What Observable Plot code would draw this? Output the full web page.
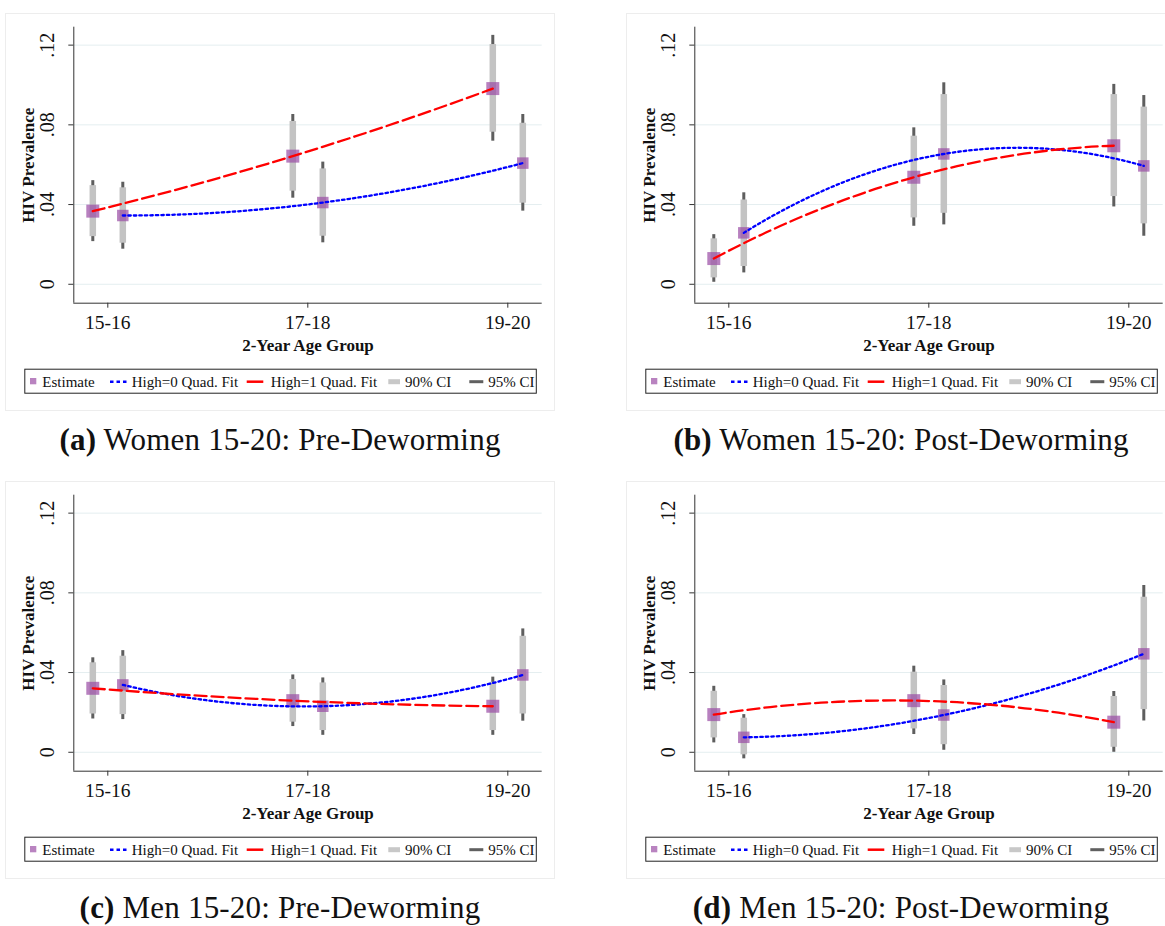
<!DOCTYPE html>
<html>
<head>
<meta charset="utf-8">
<script src="https://cdn.jsdelivr.net/npm/d3@7"></script>
<script src="https://cdn.jsdelivr.net/npm/@observablehq/plot@0.6"></script>
<style>
  html, body { margin: 0; padding: 0; background: #fff; }
  #page { position: relative; width: 1165px; height: 926px; overflow: hidden; background: #fff; font-family: "Liberation Serif", "Times New Roman", serif; }
  .panel { position: absolute; width: 560px; height: 468px; }
  .gbox { position: absolute; left: 5px; top: 13px; width: 550px; height: 398px; border: 1px solid #ededed; box-sizing: border-box; }
  .panel svg.plot { position: absolute; left: 0; top: 0; }
  .legend { position: absolute; left: 0; top: 360px; }
  .caption { position: absolute; left: 0; top: 423px; width: 560px; text-align: center; font-size: 31px; line-height: 34px; letter-spacing: 0.2px; color: #111; font-variant-numeric: oldstyle-nums; }
  .caption b { font-weight: bold; }
</style>
</head>
<body>
<div id="page"></div>
<script>
// ---------- data ----------
const groupLabels = ["15-16", "17-18", "19-20"];
const ageMid = [15.5, 17.5, 19.5];
const xHigh1 = [15.35, 17.35, 19.35];
const xHigh0 = [15.65, 17.65, 19.65];
const yTicks = [0, 0.04, 0.08, 0.12];
const yTickLabels = ["0", ".04", ".08", ".12"];
const legendLabels = ["Estimate", "High=0 Quad. Fit", "High=1 Quad. Fit", "90% CI", "95% CI"];
const xTitle = "2-Year Age Group";
const yTitle = "HIV Prevalence";
const panelTags = ["(a)", "(b)", "(c)", "(d)"];
const panelTitles = ["Women 15-20: Pre-Deworming", "Women 15-20: Post-Deworming", "Men 15-20: Pre-Deworming", "Men 15-20: Post-Deworming"];

// (a) Women pre
const aHigh1Est  = [0.0367, 0.0643, 0.0982];
const aHigh1Lo90 = [0.0239, 0.0467, 0.0763];
const aHigh1Hi90 = [0.0495, 0.0817, 0.1203];
const aHigh1Lo95 = [0.0214, 0.0432, 0.0718];
const aHigh1Hi95 = [0.0520, 0.0852, 0.1249];
const aHigh0Est  = [0.0345, 0.0410, 0.0608];
const aHigh0Lo90 = [0.0206, 0.0241, 0.0407];
const aHigh0Hi90 = [0.0484, 0.0579, 0.0808];
const aHigh0Lo95 = [0.0176, 0.0208, 0.0367];
const aHigh0Hi95 = [0.0512, 0.0613, 0.0852];
// (b) Women post
const bHigh1Est  = [0.0129, 0.0537, 0.0695];
const bHigh1Lo90 = [0.0032, 0.0333, 0.0440];
const bHigh1Hi90 = [0.0228, 0.0743, 0.0952];
const bHigh1Lo95 = [0.0010, 0.0291, 0.0388];
const bHigh1Hi95 = [0.0249, 0.0785, 0.1003];
const bHigh0Est  = [0.0258, 0.0654, 0.0594];
const bHigh0Lo90 = [0.0089, 0.0356, 0.0303];
const bHigh0Hi90 = [0.0423, 0.0952, 0.0889];
const bHigh0Lo95 = [0.0057, 0.0298, 0.0241];
const bHigh0Hi95 = [0.0459, 0.1011, 0.0947];
// (c) Men pre
const cHigh1Est  = [0.0321, 0.0259, 0.0231];
const cHigh1Lo90 = [0.0192, 0.0151, 0.0109];
const cHigh1Hi90 = [0.0449, 0.0365, 0.0351];
const cHigh1Lo95 = [0.0167, 0.0129, 0.0085];
const cHigh1Hi95 = [0.0474, 0.0388, 0.0377];
const cHigh0Est  = [0.0338, 0.0231, 0.0388];
const cHigh0Lo90 = [0.0189, 0.0109, 0.0192];
const cHigh0Hi90 = [0.0482, 0.0348, 0.0582];
const cHigh0Lo95 = [0.0164, 0.0085, 0.0156];
const cHigh0Hi95 = [0.0510, 0.0373, 0.0619];
// (d) Men post
const dHigh1Est  = [0.0189, 0.0259, 0.0151];
const dHigh1Lo90 = [0.0072, 0.0117, 0.0025];
const dHigh1Hi90 = [0.0306, 0.0402, 0.0280];
const dHigh1Lo95 = [0.0047, 0.0089, 0.0000];
const dHigh1Hi95 = [0.0331, 0.0432, 0.0305];
const dHigh0Est  = [0.0075, 0.0187, 0.0494];
const dHigh0Lo90 = [-0.0013, 0.0038, 0.0214];
const dHigh0Hi90 = [0.0171, 0.0335, 0.0778];
const dHigh0Lo95 = [-0.0033, 0.0010, 0.0157];
const dHigh0Hi95 = [0.0189, 0.0363, 0.0837];

// ---------- build ----------
function rows(xs, est, lo90, hi90, lo95, hi95, group) {
  return xs.map((x, i) => ({x, est: est[i], lo90: lo90[i], hi90: hi90[i], lo95: lo95[i], hi95: hi95[i], group}));
}
const panelData = [
  [rows(xHigh1, aHigh1Est, aHigh1Lo90, aHigh1Hi90, aHigh1Lo95, aHigh1Hi95, 1), rows(xHigh0, aHigh0Est, aHigh0Lo90, aHigh0Hi90, aHigh0Lo95, aHigh0Hi95, 0)],
  [rows(xHigh1, bHigh1Est, bHigh1Lo90, bHigh1Hi90, bHigh1Lo95, bHigh1Hi95, 1), rows(xHigh0, bHigh0Est, bHigh0Lo90, bHigh0Hi90, bHigh0Lo95, bHigh0Hi95, 0)],
  [rows(xHigh1, cHigh1Est, cHigh1Lo90, cHigh1Hi90, cHigh1Lo95, cHigh1Hi95, 1), rows(xHigh0, cHigh0Est, cHigh0Lo90, cHigh0Hi90, cHigh0Lo95, cHigh0Hi95, 0)],
  [rows(xHigh1, dHigh1Est, dHigh1Lo90, dHigh1Hi90, dHigh1Lo95, dHigh1Hi95, 1), rows(xHigh0, dHigh0Est, dHigh0Lo90, dHigh0Hi90, dHigh0Lo95, dHigh0Hi95, 0)]
];
const panelPos = [[0, 0], [621, 0], [0, 468], [621, 468]];

// quadratic fit through the three group estimates (exact parabola drawn as one quadratic Bezier)
function quadFit(context) {
  let pts = [];
  return {
    areaStart() {}, areaEnd() {},
    lineStart() { pts = []; },
    point(x, y) { pts.push([+x, +y]); },
    lineEnd() {
      if (pts.length !== 3) {
        pts.forEach(([x, y], i) => i ? context.lineTo(x, y) : context.moveTo(x, y));
        return;
      }
      const [[x0, y0], [x1, y1], [x2, y2]] = pts;
      const d0 = y0 * (2 * x0 - x1 - x2) / ((x0 - x1) * (x0 - x2))
               + y1 * (x0 - x2) / ((x1 - x0) * (x1 - x2))
               + y2 * (x0 - x1) / ((x2 - x0) * (x2 - x1));
      context.moveTo(x0, y0);
      context.quadraticCurveTo((x0 + x2) / 2, y0 + d0 * (x2 - x0) / 2, x2, y2);
    }
  };
}

const xDomain = [15.16, 19.844];
const yDomain = [-0.0095, 0.129];
const tickLabelOf = new Map(ageMid.map((m, i) => [m, groupLabels[i]]));
const page = document.getElementById("page");

panelData.forEach(([high1, high0], p) => {
  const panel = document.createElement("div");
  panel.className = "panel";
  panel.style.left = panelPos[p][0] + "px";
  panel.style.top = panelPos[p][1] + "px";
  const gbox = document.createElement("div");
  gbox.className = "gbox";
  panel.appendChild(gbox);

  const all = high1.concat(high0);
  const chart = Plot.plot({
    width: 556, height: 365,
    marginLeft: 73.3, marginRight: 14.3, marginTop: 26.7, marginBottom: 62.3,
    x: {domain: xDomain, axis: null},
    y: {domain: yDomain, axis: null},
    style: {fontFamily: "'Liberation Serif', 'Times New Roman', serif", background: "transparent", color: "#111", overflow: "visible"},
    marks: [
      Plot.gridY(yTicks, {stroke: "#e4eef0", strokeOpacity: 1, strokeWidth: 1}),
      Plot.axisY(yTicks, {tickSize: 5, tickFormat: () => "", label: null, stroke: "#333"}),
      Plot.text(yTicks, {y: d => d, text: yTickLabels, frameAnchor: "left", textAnchor: "middle", dx: -26, rotate: -90, fontSize: 20, fill: "#111"}),
      Plot.axisX(ageMid, {tickSize: 5, tickPadding: 7, fontSize: 19.5, label: null, stroke: "#333", tickFormat: d => tickLabelOf.get(d)}),
      Plot.ruleX([xDomain[0]], {stroke: "#333", strokeWidth: 1}),
      Plot.ruleY([yDomain[0]], {stroke: "#333", strokeWidth: 1}),
      Plot.ruleX(all, {x: "x", y1: "lo95", y2: "hi95", stroke: "#5e5e5e", strokeWidth: 3}),
      Plot.ruleX(all, {x: "x", y1: "lo90", y2: "hi90", stroke: "#c3c3c3", strokeWidth: 6.5}),
      Plot.dot(high1, {x: "x", y: "est", symbol: "square", r: 13 / Math.sqrt(Math.PI), fill: "#9b4fa6", fillOpacity: 0.72, stroke: null}),
      Plot.dot(high0, {x: "x", y: "est", symbol: "square", r: 11.5 / Math.sqrt(Math.PI), fill: "#9b4fa6", fillOpacity: 0.72, stroke: null}),
      Plot.line(high0, {x: "x", y: "est", curve: quadFit, stroke: "#0000ff", strokeWidth: 2.3, strokeDasharray: "2.5,3"}),
      Plot.line(high1, {x: "x", y: "est", curve: quadFit, stroke: "#ff0000", strokeWidth: 2.3, strokeDasharray: "12,5"}),
      Plot.text([yTitle], {text: d => d, frameAnchor: "left", textAnchor: "middle", dx: -45, rotate: -90, fontSize: 17, fontWeight: "bold", fill: "#111"}),
      Plot.text([xTitle], {text: d => d, frameAnchor: "bottom", dy: 47.6, fontSize: 17, fontWeight: "bold", fill: "#111"})
    ]
  });
  chart.classList.add("plot");
  panel.appendChild(chart);

  // legend (Stata-style box)
  const ns = "http://www.w3.org/2000/svg";
  const leg = document.createElementNS(ns, "svg");
  leg.setAttribute("class", "legend");
  leg.setAttribute("width", 560);
  leg.setAttribute("height", 40);
  const textX = [42.3, 131.7, 270.7, 405, 488.3];
  let s = `<rect x="24.8" y="9.2" width="511.5" height="24" fill="#fff" stroke="#222" stroke-width="1"/>`;
  s += `<rect x="30" y="18" width="6.3" height="6.3" fill="#b983c0"/>`;
  s += `<line x1="110" x2="128.5" y1="21.7" y2="21.7" stroke="#0000ff" stroke-width="2.5" stroke-dasharray="3.5,3"/>`;
  s += `<line x1="246.7" x2="263.3" y1="21.7" y2="21.7" stroke="#ff0000" stroke-width="2.5"/>`;
  s += `<line x1="388.3" x2="400" y1="21.7" y2="21.7" stroke="#c8c8c8" stroke-width="5"/>`;
  s += `<line x1="469.3" x2="483.3" y1="21.7" y2="21.7" stroke="#606060" stroke-width="3"/>`;
  legendLabels.forEach((t, i) => {
    s += `<text x="${textX[i]}" y="27" font-size="15" fill="#111" font-family="'Liberation Serif', serif">${t}</text>`;
  });
  leg.innerHTML = s;
  panel.appendChild(leg);

  const cap = document.createElement("div");
  cap.className = "caption";
  cap.innerHTML = `<b>${panelTags[p]}</b> ${panelTitles[p]}`;
  panel.appendChild(cap);

  page.appendChild(panel);
});
</script>
</body>
</html>
